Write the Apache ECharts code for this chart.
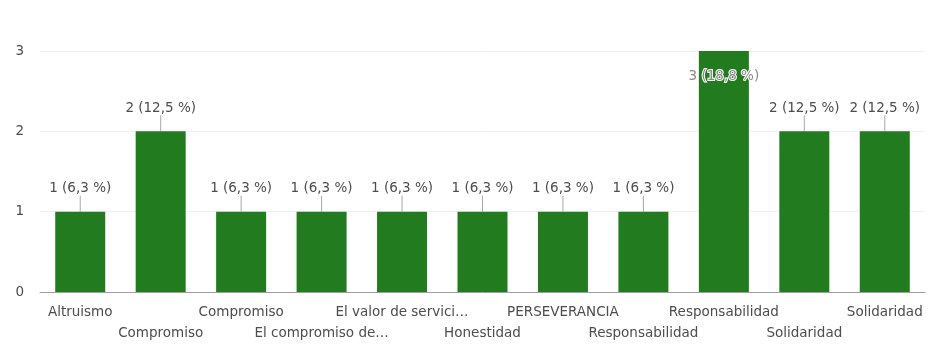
<!DOCTYPE html>
<html>
<head>
<meta charset="utf-8">
<style>
  html, body { margin: 0; padding: 0; background: #ffffff; }
  #chart { width: 932px; height: 364px; }
</style>
<script src="https://cdn.jsdelivr.net/npm/echarts@6/dist/echarts.min.js"></script>
</head>
<body>
<div id="chart"></div>
<script>
// Answer categories (truncated as shown on the axis)
const categories = [
  'Altruismo', 'Compromiso', 'Compromiso', 'El compromiso de…', 'El valor de servici…',
  'Honestidad', 'PERSEVERANCIA', 'Responsabilidad', 'Responsabilidad', 'Solidaridad', 'Solidaridad'
];
// Response counts per category
const counts = [1, 2, 1, 1, 1, 1, 1, 1, 3, 2, 2];
// Share of all responses, in percent
const percents = ['6,3', '12,5', '6,3', '6,3', '6,3', '6,3', '6,3', '6,3', '18,8', '12,5', '12,5'];
// Value axis ticks
const yTicks = [0, 1, 2, 3];

const yMax = yTicks[yTicks.length - 1];
const green = '#237b20';
const textColor = '#4d4d4d';
const font = '"DejaVu Sans", sans-serif';
const fontSize = 13.5;

const barData = counts.map(function (v, i) {
  const item = { value: v };
  if (v >= yMax) {
    // no room above the tallest bar: put its label inside
    item.label = {
      position: 'insideTop',
      distance: 0,
      color: '#888888',
      textBorderColor: '#ffffff',
      textBorderWidth: 2
    };
  }
  return item;
});

const chart = echarts.init(document.getElementById('chart'), null, { renderer: 'canvas' });
chart.setOption({
  animation: false,
  backgroundColor: '#ffffff',
  grid: { left: 40, right: 7, top: 51, bottom: 72, containLabel: false },
  xAxis: {
    type: 'category',
    data: categories,
    axisLine: { show: true, lineStyle: { color: '#9e9e9e', width: 1 } },
    axisTick: { show: false },
    axisLabel: {
      interval: 0,
      margin: 10,
      color: textColor,
      fontFamily: font,
      fontSize: fontSize,
      lineHeight: 21,
      formatter: function (value, index) {
        return index % 2 === 1 ? '\n' + value : value;
      },
      verticalAlign: 'top'
    }
  },
  yAxis: {
    type: 'value',
    min: yTicks[0],
    max: yMax,
    interval: 1,
    axisLine: { show: false },
    axisTick: { show: false },
    splitLine: { show: true, lineStyle: { color: '#f0f0f0', width: 1 } },
    axisLabel: {
      margin: 16,
      color: textColor,
      fontFamily: font,
      fontSize: fontSize
    }
  },
  series: [{
    type: 'bar',
    data: barData,
    barWidth: 50,
    itemStyle: { color: green },
    label: {
      show: true,
      position: 'top',
      distance: 0,
      color: textColor,
      fontFamily: font,
      fontSize: fontSize,
      formatter: function (p) {
        return counts[p.dataIndex] + ' (' + percents[p.dataIndex] + ' %)';
      }
    },
    labelLayout: function (p) {
      return { dy: counts[p.dataIndex] >= yMax ? 18 : -16 };
    },
    labelLine: {
      show: true,
      length2: 0,
      smooth: false,
      lineStyle: { color: '#a8a8a8', width: 1 }
    }
  }]
});
</script>
</body>
</html>
